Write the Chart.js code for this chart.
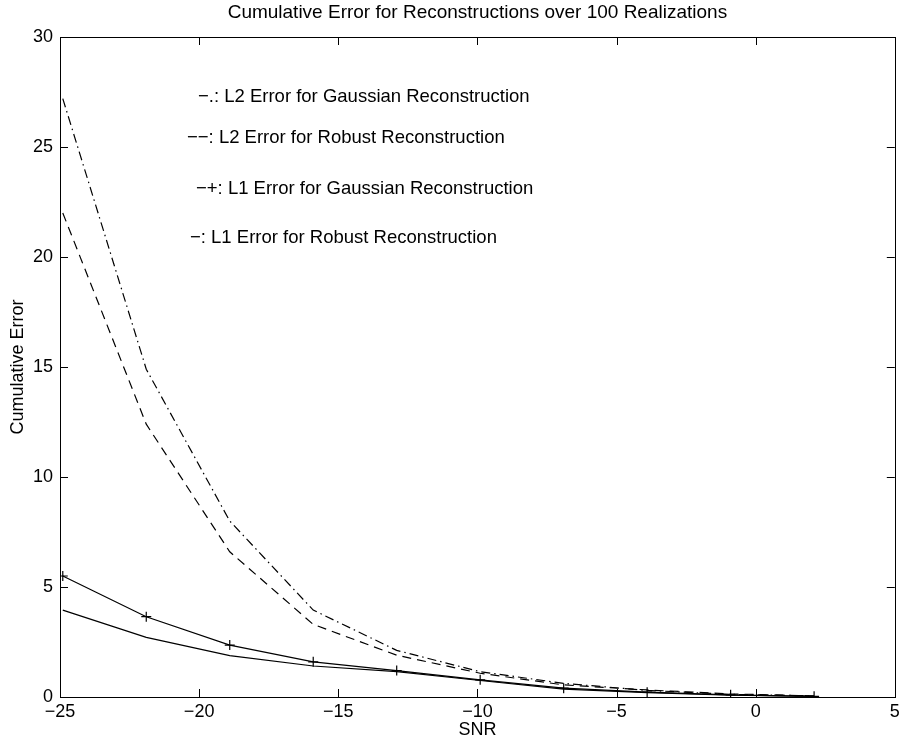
<!DOCTYPE html>
<html lang="en">
<head>
    <meta charset="UTF-8">
    <title>Cumulative Error for Reconstructions</title>
    <script src="https://cdn.jsdelivr.net/npm/chart.js"></script>
    <style>
        html, body { margin: 0; padding: 0; background: #fff; }
        #wrap { width: 901px; height: 747px; }
    </style>
</head>
<body>
    <div id="wrap"><canvas id="errChart"></canvas></div>
    <script>
        // SNR values (x) and the four error curves
        const snr = [-24.9, -21.9, -18.9, -15.9, -12.9, -9.9, -6.9, -3.9, -0.9, 2.1];
        const l2Gauss = [27.2, 14.9, 8.0, 3.95, 2.12, 1.15, 0.62, 0.3, 0.12, 0.05];
        const l2Robust = [22.0, 12.4, 6.6, 3.3, 1.9, 1.08, 0.55, 0.32, 0.14, 0.05];
        const l1Gauss = [5.5, 3.65, 2.36, 1.6, 1.2, 0.78, 0.4, 0.22, 0.1, 0.03];
        const l1Robust = [3.95, 2.71, 1.88, 1.41, 1.15, 0.75, 0.36, 0.2, 0.08, 0.03];
        const xTicks = [-25, -20, -15, -10, -5, 0, 5];
        const yTicks = [0, 5, 10, 15, 20, 25, 30];
        const notes = [
            '\u2212.: L2 Error for Gaussian Reconstruction',
            '\u2212\u2212: L2 Error for Robust Reconstruction',
            '\u2212+: L1 Error for Gaussian Reconstruction',
            '\u2212: L1 Error for Robust Reconstruction'
        ];
        const titleText = 'Cumulative Error for Reconstructions over 100 Realizations';

        const FONT = '"Liberation Sans", Arial, Helvetica, sans-serif';
        const pts = ys => snr.map((x, i) => ({ x: x, y: ys[i] }));
        const minus = v => String(v).replace('-', '\u2212');

        // matlab style box, inward ticks, title and text notes
        const matlabFrame = {
            id: 'matlabFrame',
            afterDraw(chart) {
                const { ctx, chartArea: a, scales: { x, y } } = chart;
                ctx.save();
                ctx.strokeStyle = '#000';
                ctx.lineWidth = 1;
                ctx.strokeRect(Math.round(a.left) + 0.5, Math.round(a.top) + 0.5,
                    Math.round(a.right - a.left), Math.round(a.bottom - a.top));
                ctx.beginPath();
                xTicks.forEach(t => {
                    const px = Math.round(x.getPixelForValue(t)) + 0.5;
                    ctx.moveTo(px, a.bottom); ctx.lineTo(px, a.bottom - 8);
                    ctx.moveTo(px, a.top); ctx.lineTo(px, a.top + 8);
                });
                yTicks.forEach(t => {
                    const py = Math.round(y.getPixelForValue(t)) + 0.5;
                    ctx.moveTo(a.left, py); ctx.lineTo(a.left + 8, py);
                    ctx.moveTo(a.right, py); ctx.lineTo(a.right - 8, py);
                });
                ctx.stroke();

                ctx.fillStyle = '#000';
                ctx.textBaseline = 'middle';
                ctx.textAlign = 'center';
                ctx.font = '19px ' + FONT;
                ctx.fillText(titleText, (a.left + a.right) / 2, 13);

                ctx.textAlign = 'left';
                ctx.font = '18.5px ' + FONT;
                const spots = [[198, 97], [187, 138], [196, 189], [190, 238]];
                notes.forEach((n, i) => ctx.fillText(n, spots[i][0], spots[i][1]));
                ctx.restore();
            }
        };

        new Chart(document.getElementById('errChart'), {
            type: 'line',
            data: {
                datasets: [
                    {
                        label: 'L2 Error for Gaussian Reconstruction',
                        data: pts(l2Gauss),
                        borderColor: '#000',
                        borderWidth: 1.2,
                        borderDash: [9, 4, 1.5, 4],
                        pointRadius: 0
                    },
                    {
                        label: 'L2 Error for Robust Reconstruction',
                        data: pts(l2Robust),
                        borderColor: '#000',
                        borderWidth: 1.2,
                        borderDash: [9, 6],
                        pointRadius: 0
                    },
                    {
                        label: 'L1 Error for Gaussian Reconstruction',
                        data: pts(l1Gauss),
                        borderColor: '#000',
                        borderWidth: 1.2,
                        pointStyle: 'cross',
                        pointRadius: 5,
                        pointBorderWidth: 1.2,
                        pointBorderColor: '#000'
                    },
                    {
                        label: 'L1 Error for Robust Reconstruction',
                        data: pts(l1Robust),
                        borderColor: '#000',
                        borderWidth: 1.2,
                        pointRadius: 0
                    }
                ]
            },
            options: {
                responsive: true,
                maintainAspectRatio: false,
                animation: false,
                events: [],
                layout: { padding: { top: 37, right: 5, bottom: 0, left: 0 } },
                plugins: {
                    legend: { display: false },
                    tooltip: { enabled: false },
                    title: { display: false }
                },
                scales: {
                    x: {
                        type: 'linear',
                        min: -25,
                        max: 5,
                        afterFit: s => { s.height = 50; s.paddingRight = 0; },
                        afterBuildTicks: s => { s.ticks = xTicks.map(v => ({ value: v })); },
                        grid: { display: false, drawTicks: false, tickLength: 0 },
                        border: { display: false },
                        ticks: {
                            color: '#000',
                            padding: 4,
                            maxRotation: 0,
                            font: { family: FONT, size: 18 },
                            callback: v => minus(v)
                        },
                        title: {
                            display: true,
                            text: 'SNR',
                            color: '#000',
                            font: { family: FONT, size: 18 },
                            padding: { top: 0, bottom: 6 }
                        }
                    },
                    y: {
                        min: 0,
                        max: 30,
                        afterFit: s => { s.width = 60; },
                        afterBuildTicks: s => { s.ticks = yTicks.map(v => ({ value: v })); },
                        grid: { display: false, drawTicks: false, tickLength: 0 },
                        border: { display: false },
                        ticks: {
                            color: '#000',
                            padding: 7,
                            font: { family: FONT, size: 18 },
                            callback: v => minus(v)
                        },
                        title: {
                            display: true,
                            text: 'Cumulative Error',
                            color: '#000',
                            font: { family: FONT, size: 18 },
                            padding: { top: 7, bottom: 0 }
                        }
                    }
                }
            },
            plugins: [matlabFrame]
        });
    </script>
</body>
</html>
